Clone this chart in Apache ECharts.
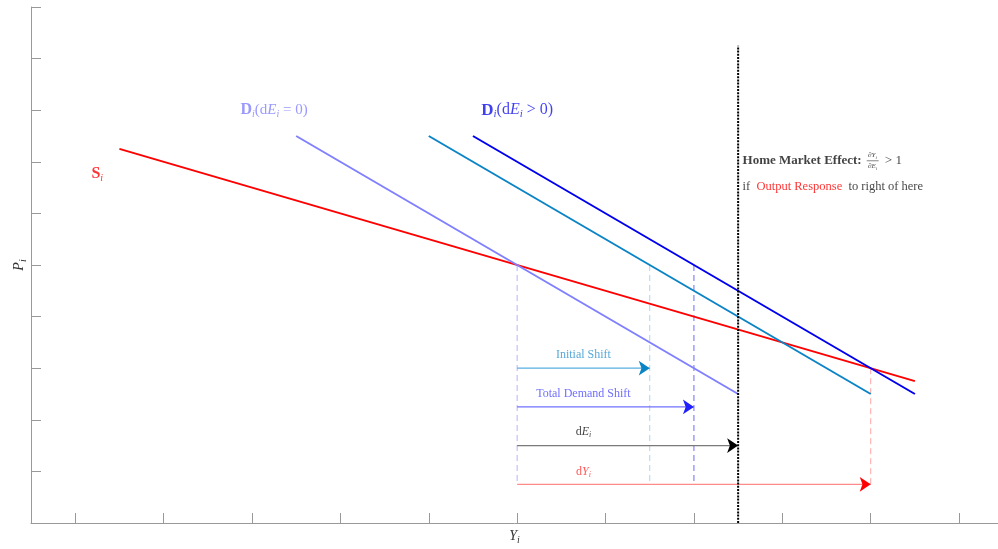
<!DOCTYPE html>
<html>
<head>
<meta charset="utf-8">
<script src="https://cdn.jsdelivr.net/npm/echarts@6/dist/echarts.min.js"></script>
<style>html,body{margin:0;padding:0;background:#fff}#c{width:998px;height:549px}</style>
</head>
<body>
<div id="c"></div>
<script>
// ---- data ----
const xTickValues = [1, 2, 3, 4, 5, 6, 7, 8, 9, 10, 11];
const supplyLine = [[1.5, 7.25], [10.5, 2.75]];
const demandZero = [[3.5, 7.5], [8.5, 2.5]];
const demandInitial = [[5, 7.5], [10, 2.5]];
const demandTotal = [[5.5, 7.5], [10.5, 2.5]];
const hmeLine = [[8.5, 0], [8.5, 9.25]];
const dropX = [6, 7.5, 8, 10];
const dropTopY = [5, 5, 5, 3];
const dropBottomY = 0.75;
const arrowStartX = 6;
const arrowEndX = [7.5, 8, 8.5, 10];
const arrowY = [3, 2.25, 1.5, 0.75];
const arrowText = ['Initial Shift', 'Total Demand Shift', '{n|d}{it|E}{sub|i}', '{n|d}{it|Y}{sub|i}'];
const arrowTextY = [3.25, 2.5, 1.77, 1.0];
const arrowTextX = 6.75;

const dropColors = ['#b3b3ff', '#a9d5ef', '#6a6aff', '#ffa5a5'];
const arrowLineColors = ['#58aee0', '#7070ff', '#7a7a7a', '#ff8a8a'];
const arrowHeadColors = ['#0b84c6', '#2020ff', '#000000', '#ff0000'];
const arrowTextColors = ['#2a92d0', '#4a4aff', '#111111', '#ff3030'];

const SERIF = 'Liberation Serif';
function rich(color, size) {
  return {
    n: {fontFamily: SERIF, fontSize: size, color: color, lineHeight: size + 3},
    it: {fontFamily: SERIF, fontSize: size, fontStyle: 'italic', color: color, lineHeight: size + 3},
    b: {fontFamily: SERIF, fontSize: size + 1, fontWeight: 'bold', color: color, lineHeight: size + 3},
    sub: {fontFamily: SERIF, fontSize: Math.round(size * 0.68), fontStyle: 'italic', color: color, lineHeight: Math.round(size * 0.68), verticalAlign: 'bottom'},
    r: {fontFamily: SERIF, fontSize: size, color: '#ff0000', lineHeight: size + 3},
    bb: {fontFamily: SERIF, fontSize: size, fontWeight: 'bold', color: color, lineHeight: size + 3}
  };
}

// text annotations: [x, y, text, color, size, align]
const annotations = [
  [3.25, 8.0, '{b|D}{sub|i}{n|(d}{it|E}{sub|i}{n| = 0)}', '#8080ff', 15, 'center'],
  [6.0, 8.0, '{b|D}{sub|i}{n|(d}{it|E}{sub|i}{n| > 0)}', '#1010ee', 16, 'center'],
  [1.25, 6.76, '{b|S}{sub|i}', '#ff0000', 15, 'center'],
  [8.55, 7.02, '{bb|Home Market Effect:}', '#111111', 13, 'left'],
  [10.02, 7.13, '{n|∂}{it|Y}{sub|i}', '#111111', 7, 'center'],
  [10.02, 6.91, '{n|∂}{it|E}{sub|i}', '#111111', 7, 'center'],
  [10.16, 7.02, '{n|> 1}', '#111111', 13, 'left'],
  [8.55, 6.51, '{n|if  }{r|Output Response}{n|  to right of here}', '#111111', 12.5, 'left']
];
const fractionBar = [[9.955, 7.02], [10.09, 7.02]];

// ---- chart ----
const chart = echarts.init(document.getElementById('c'), null, {renderer: 'canvas'});
const series = [];

function line(data, color, width, type) {
  series.push({type: 'line', data: data, symbol: 'none', silent: true, animation: false,
    lineStyle: {color: color, width: width, type: type || 'solid'}, z: 3});
}

// dashed drop lines
dropX.forEach((x, i) => {
  line([[x, dropTopY[i]], [x, dropBottomY]], dropColors[i], 1, [6, 4]);
});
// arrows (shaft)
arrowEndX.forEach((x, i) => {
  line([[arrowStartX, arrowY[i]], [x, arrowY[i]]], arrowLineColors[i], 1.2);
});
// arrow heads
series.push({
  type: 'lines', coordinateSystem: 'cartesian2d', silent: true, animation: false, z: 5,
  symbol: ['none', 'arrow'], symbolSize: [8, 11],
  data: arrowEndX.map((x, i) => ({
    coords: [[arrowStartX, arrowY[i]], [x, arrowY[i]]],
    lineStyle: {color: arrowHeadColors[i], width: 0, opacity: 1}
  }))
});

line(supplyLine, '#ff0000', 2);
line(demandZero, '#8080ff', 2);
line(demandInitial, '#0b84c6', 2);
line(demandTotal, '#0000ee', 2);
line(hmeLine, '#000000', 2, [2, 1.2]);
line(fractionBar, '#333333', 0.6);

// text labels
const textData = annotations.map(a => ({
  value: [a[0], a[1]],
  label: {show: true, formatter: a[2], position: [0, 0], align: a[5], verticalAlign: 'middle',
    rich: rich(a[3], a[4]), color: a[3], fontFamily: SERIF, fontSize: a[4]}
})).concat(arrowText.map((t, i) => ({
  value: [arrowTextX, arrowTextY[i]],
  label: {show: true, formatter: t.indexOf('{') === 0 ? t : '{n|' + t + '}', position: [0, 0], align: 'center',
    verticalAlign: 'middle', rich: rich(arrowTextColors[i], 12)}
})));
series.push({type: 'scatter', symbolSize: 0, data: textData, silent: true, animation: false, z: 10});

chart.setOption({
  animation: false,
  backgroundColor: '#ffffff',
  grid: {left: 31, right: 0, top: 7, bottom: 26, containLabel: false, outerBoundsMode: 'none'},
  xAxis: {
    type: 'value', min: 0.5, max: 11.44,
    name: '{it|Y}{sub|i}', nameLocation: 'middle', nameGap: 5,
    nameTextStyle: {rich: rich('#333333', 14)},
    axisLine: {show: true, lineStyle: {color: '#999999', width: 1}},
    axisTick: {show: true, inside: true, length: 10, customValues: xTickValues, lineStyle: {color: '#999999'}},
    axisLabel: {show: false},
    splitLine: {show: false}
  },
  yAxis: {
    type: 'value', min: 0, max: 10, interval: 1,
    name: '{it|P}{sub|i}', nameLocation: 'middle', nameGap: 3,
    nameTextStyle: {rich: rich('#333333', 14)},
    axisLine: {show: true, lineStyle: {color: '#999999', width: 1}},
    axisTick: {show: true, inside: true, length: 10, lineStyle: {color: '#999999'}},
    axisLabel: {show: false},
    splitLine: {show: false}
  },
  series: series
});
</script>
</body>
</html>
